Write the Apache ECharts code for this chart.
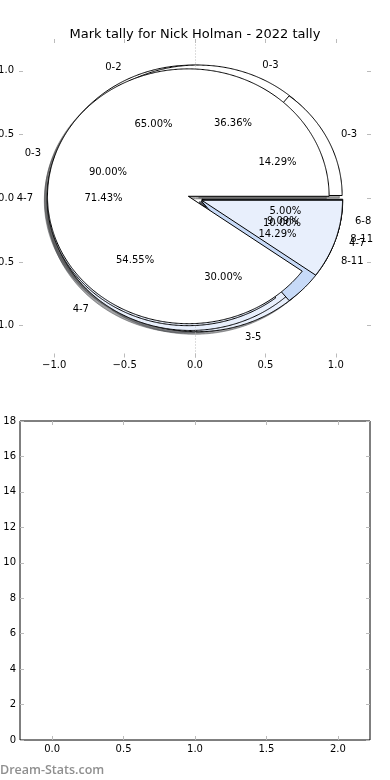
<!DOCTYPE html>
<html><head><meta charset="utf-8">
<script src="https://cdn.jsdelivr.net/npm/echarts@6/dist/echarts.min.js"></script>
<style>html,body{margin:0;padding:0;background:#fff}#c{width:390px;height:780px}</style>
</head><body><div id="c"></div>
<script>
const titleText = 'Mark tally for Nick Holman - 2022 tally';
// pies, in drawing order (first = bottom)
const pie1Labels = ['0-2', '3-5', '6-8'];
const pie1Values = [13, 6, 1];
const pie2Labels = ['0-3', '4-7', '8-11'];
const pie2Values = [4, 6, 1];
const pie3Labels = ['0-3', '4-7', '8-11'];
const pie3Values = [1, 5, 1];
const pie4Labels = ['0-3', '4-7'];
const pie4Values = [9, 1];
const sliceColors = ['#ffffff', '#e8effc', '#c7daf8'];
const explodeDist = 0.05;
const shadowOffset = -0.02;
const pieAxisTicks = [-1, -0.5, 0, 0.5, 1];
const barYTicks = [0, 2, 4, 6, 8, 10, 12, 14, 16, 18];
const barXTicks = [0, 0.5, 1, 1.5, 2];
const watermark = 'Dream-Stats.com';

const pies = [
  {labels: pie1Labels, values: pie1Values},
  {labels: pie2Labels, values: pie2Values},
  {labels: pie3Labels, values: pie3Values},
  {labels: pie4Labels, values: pie4Values}
];
const FONT = '"DejaVu Sans", sans-serif';

function geom(vals, i) {
  const total = vals.reduce((a, b) => a + b, 0);
  let cum = 0;
  for (let k = 0; k < i; k++) cum += vals[k];
  const t1 = 2 * Math.PI * cum / total, t2 = 2 * Math.PI * (cum + vals[i]) / total;
  const tm = (t1 + t2) / 2;
  return {t1, t2, tm, cx: explodeDist * Math.cos(tm), cy: explodeDist * Math.sin(tm), frac: vals[i] / total};
}
function wedgePts(api, g, dx, dy) {
  const pts = [api.coord([g.cx + dx, g.cy + dy])];
  const n = Math.max(2, Math.ceil((g.t2 - g.t1) / (Math.PI / 360)));
  for (let k = 0; k <= n; k++) {
    const t = g.t1 + (g.t2 - g.t1) * k / n;
    pts.push(api.coord([g.cx + dx + Math.cos(t), g.cy + dy + Math.sin(t)]));
  }
  return pts;
}
function shade(hex) {
  const r = parseInt(hex.substr(1, 2), 16), g = parseInt(hex.substr(3, 2), 16), b = parseInt(hex.substr(5, 2), 16);
  return 'rgba(' + Math.round(r * 0.3) + ',' + Math.round(g * 0.3) + ',' + Math.round(b * 0.3) + ',0.5)';
}
const fmt = v => (v < 0 ? '\u2212' : '') + Math.abs(v).toFixed(1);

const series = [];
// dotted vertical reference line at x = 0
series.push({
  type: 'line', xAxisIndex: 0, yAxisIndex: 0, data: [[0, 0]], symbol: 'none', lineStyle: {width: 0}, z: 1, silent: true,
  markLine: {silent: true, symbol: ['none', 'none'], label: {show: false}, animation: false,
    lineStyle: {type: [1, 2], color: '#bbbbbb', width: 1}, data: [{xAxis: 0}]}
});
// shadows
pies.forEach((p) => {
  series.push({
    type: 'custom', xAxisIndex: 0, yAxisIndex: 0, z: 2, silent: true, animation: false,
    data: p.values.map((v, i) => ({name: p.labels[i], value: [0, 0]})),
    renderItem: (params, api) => {
      const g = geom(p.values, params.dataIndex);
      const c = shade(sliceColors[params.dataIndex % sliceColors.length]);
      return {type: 'polygon', shape: {points: wedgePts(api, g, shadowOffset, shadowOffset)}, style: {fill: c, stroke: c, lineWidth: 1}};
    }
  });
});
// wedges
pies.forEach((p, pi) => {
  series.push({
    type: 'custom', xAxisIndex: 0, yAxisIndex: 0, z: 3 + pi, silent: true, animation: false,
    data: p.values.map((v, i) => ({name: p.labels[i], value: [0, 0]})),
    renderItem: (params, api) => {
      const g = geom(p.values, params.dataIndex);
      return {type: 'polygon', shape: {points: wedgePts(api, g, 0, 0)},
        style: {fill: sliceColors[params.dataIndex % sliceColors.length], stroke: '#000', lineWidth: 1, lineJoin: 'miter'}};
    }
  });
});
// labels
pies.forEach((p) => {
  series.push({
    type: 'custom', xAxisIndex: 0, yAxisIndex: 0, z: 10, silent: true, animation: false,
    data: p.values.map((v, i) => ({name: p.labels[i], value: [0, 0]})),
    renderItem: (params, api) => {
      const g = geom(p.values, params.dataIndex);
      const lx = g.cx + 1.1 * Math.cos(g.tm), ly = g.cy + 1.1 * Math.sin(g.tm);
      const px = g.cx + 0.6 * Math.cos(g.tm), py = g.cy + 0.6 * Math.sin(g.tm);
      const lp = api.coord([lx, ly]), pp = api.coord([px, py]);
      const al = lx > 0 ? 'left' : 'right';
      return {type: 'group', children: [
        {type: 'text', x: lp[0], y: lp[1], style: {text: p.labels[params.dataIndex], fill: '#000', font: '10px ' + FONT,
          align: al, textAlign: al, verticalAlign: 'middle', textVerticalAlign: 'middle'}},
        {type: 'text', x: pp[0], y: pp[1], style: {text: (g.frac * 100).toFixed(2) + '%', fill: '#000', font: '10px ' + FONT,
          align: 'center', textAlign: 'center', verticalAlign: 'middle', textVerticalAlign: 'middle'}}
      ]};
    }
  });
});

const tickStyle = {color: '#bbbbbb', width: 1};
const lblStyle = {color: '#000', fontSize: 10, fontFamily: FONT};
function ax(grid, pos, min, max, ticks, showLabel, margin, labelFmt) {
  return {
    type: 'value', gridIndex: grid, position: pos, min: min, max: max,
    axisLine: {show: false, onZero: false},
    axisTick: {show: true, inside: true, length: 4, customValues: ticks, lineStyle: tickStyle},
    axisLabel: {show: showLabel, customValues: ticks, margin: margin, formatter: labelFmt || fmt, ...lblStyle},
    splitLine: {show: false}
  };
}

const option = {
  animation: false,
  backgroundColor: '#ffffff',
  title: {text: titleText, left: 'center', top: 23, textStyle: {fontSize: 13, fontWeight: 'normal', color: '#000', fontFamily: FONT}},
  grid: [
    {left: 19, right: 19, top: 39, height: 318.5, outerBoundsMode: 'none', containLabel: false},
    {left: 20, right: 20, top: 421, height: 319, outerBoundsMode: 'none', containLabel: false,
      show: true, borderColor: '#000', borderWidth: 1, backgroundColor: 'transparent'}
  ],
  xAxis: [
    ax(0, 'bottom', -1.25, 1.25, pieAxisTicks, true, 3),
    ax(0, 'top', -1.25, 1.25, pieAxisTicks, false, 3),
    ax(1, 'bottom', -0.225, 2.225, barXTicks, true, 4),
    ax(1, 'top', -0.225, 2.225, barXTicks, false, 4)
  ],
  yAxis: [
    ax(0, 'left', -1.25, 1.25, pieAxisTicks, true, 5),
    ax(0, 'right', -1.25, 1.25, pieAxisTicks, false, 5),
    ax(1, 'left', 0, 18, barYTicks, true, 4, v => String(v)),
    ax(1, 'right', 0, 18, barYTicks, false, 4)
  ],
  graphic: [{type: 'text', left: 0, top: 764, style: {text: watermark, fill: '#8f8f8f', font: '600 12.5px "Open Sans", sans-serif'}}],
  series: series
};
const chart = echarts.init(document.getElementById('c'), null, {renderer: 'canvas'});
chart.setOption(option);
</script>
</body></html>
